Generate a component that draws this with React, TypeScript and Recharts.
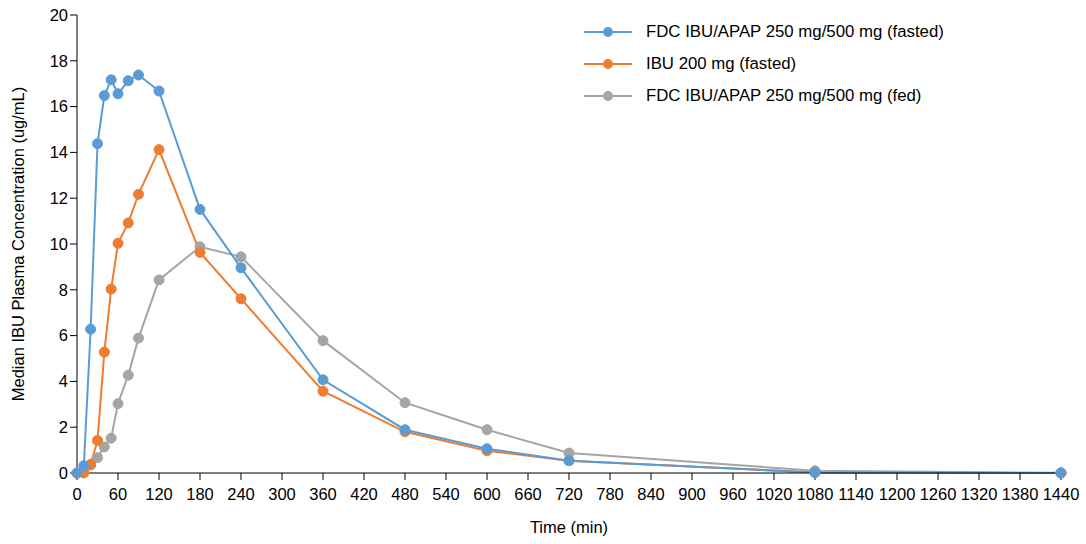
import React from 'react';
import { LineChart, Line, XAxis, YAxis } from 'recharts';

const times = [0, 10, 20, 30, 40, 50, 60, 75, 90, 120, 180, 240, 360, 480, 600, 720, 1080, 1440];
const fdcFasted = [0, 0.32, 6.28, 14.38, 16.48, 17.17, 16.56, 17.13, 17.38, 16.68, 11.51, 8.96, 4.07, 1.89, 1.06, 0.54, 0.02, 0];
const ibuFasted = [0, 0, 0.38, 1.42, 5.28, 8.03, 10.03, 10.92, 12.17, 14.12, 9.63, 7.61, 3.57, 1.8, 0.97, 0.54, 0.02, 0];
const fdcFed = [0, 0.05, 0.35, 0.67, 1.14, 1.52, 3.03, 4.27, 5.89, 8.43, 9.88, 9.44, 5.78, 3.07, 1.89, 0.87, 0.1, 0.01];

const xTicks = Array.from({ length: 25 }, (_, i) => i * 60);
const yTicks = [0, 2, 4, 6, 8, 10, 12, 14, 16, 18, 20];

const seriesInfo = [
  { key: 'fdcFasted', name: 'FDC IBU/APAP 250 mg/500 mg (fasted)', color: '#5B9BD5' },
  { key: 'ibuFasted', name: 'IBU 200 mg (fasted)', color: '#ED7D31' },
  { key: 'fdcFed', name: 'FDC IBU/APAP 250 mg/500 mg (fed)', color: '#A5A5A5' },
];

const data = times.map((t, i) => ({
  time: t,
  fdcFasted: fdcFasted[i],
  ibuFasted: ibuFasted[i],
  fdcFed: fdcFed[i],
}));

const font = '"Liberation Sans", Arial, sans-serif';
const fs = 16.5;

function LegendBox() {
  return (
    <div
      style={{
        position: 'absolute',
        left: 584,
        top: 16,
        fontFamily: font,
        fontSize: 16.8,
        color: '#000',
      }}
    >
      {seriesInfo.map((s) => (
        <div key={s.key} style={{ display: 'flex', alignItems: 'center', height: 32 }}>
          <svg width={50} height={12} style={{ marginRight: 12 }}>
            <line x1={0} y1={6} x2={48} y2={6} stroke={s.color} strokeWidth={2} />
            <circle cx={24} cy={6} r={5} fill={s.color} />
          </svg>
          <span>{s.name}</span>
        </div>
      ))}
    </div>
  );
}

const YLabel = () => (
  <text
    x={18}
    y={244}
    transform="rotate(-90 18 244)"
    textAnchor="middle"
    dominantBaseline="central"
    fill="#000"
    fontSize={fs}
  >
    Median IBU Plasma Concentration (ug/mL)
  </text>
);

export default function App() {
  const drawOrder = [...seriesInfo].reverse();
  return (
    <div style={{ position: 'relative', width: 1086, height: 544, background: '#fff' }}>
      <style>{'body{margin:0}'}</style>
      <LineChart
        width={1086}
        height={544}
        data={data}
        margin={{ top: 15, right: 25, bottom: 11, left: 15 }}
        style={{ fontFamily: font }}
      >
        <XAxis
          dataKey="time"
          type="number"
          domain={[0, 1440]}
          ticks={xTicks}
          interval={0}
          height={60}
          stroke="#000"
          tickSize={7}
          tickMargin={8}
          tick={{ fill: '#000', fontSize: fs }}
          label={{ value: 'Time (min)', position: 'insideBottom', offset: 0, fill: '#000', fontSize: fs }}
        />
        <YAxis
          domain={[0, 20]}
          ticks={yTicks}
          interval={0}
          width={62}
          stroke="#000"
          tickSize={7}
          tick={{ fill: '#000', fontSize: fs }}
          label={<YLabel />}
        />
        {drawOrder.map((s) => (
          <Line
            key={s.key}
            dataKey={s.key}
            name={s.name}
            stroke={s.color}
            strokeWidth={2}
            dot={{ r: 5, fill: s.color, stroke: s.color, strokeWidth: 1 }}
            activeDot={false}
            isAnimationActive={false}
          />
        ))}
      </LineChart>
      <LegendBox />
    </div>
  );
}
